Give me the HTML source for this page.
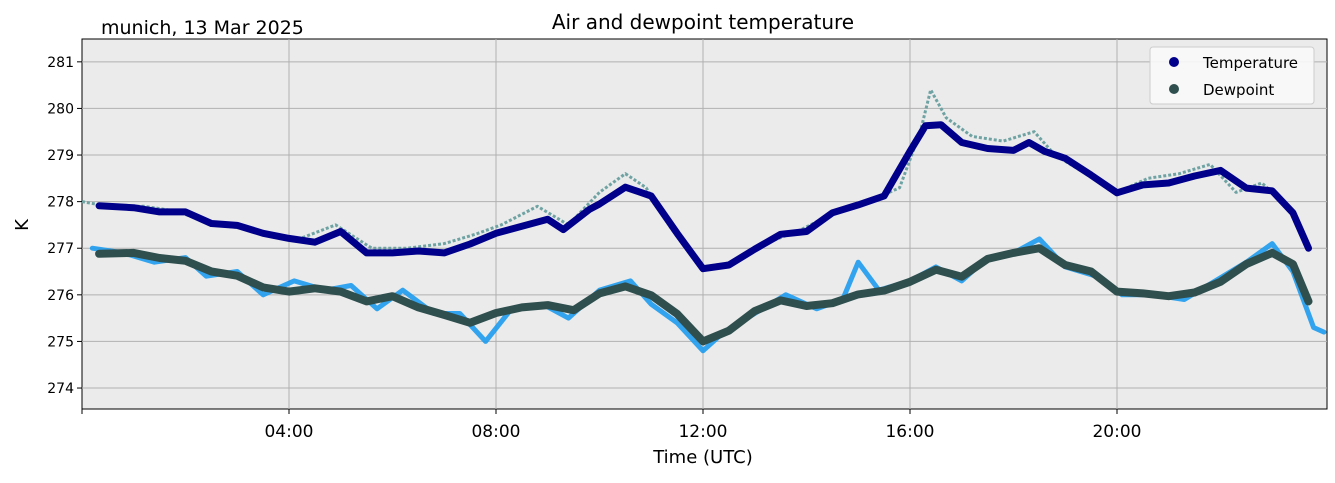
<!DOCTYPE html>
<html><head><meta charset="utf-8"><style>
body{margin:0;background:#fff;}
svg text{font-family:"DejaVu Sans","Liberation Sans",sans-serif;}
</style></head><body>
<svg id="chart" width="1335" height="478" xmlns="http://www.w3.org/2000/svg">
<text x="101" y="34" font-size="19">munich, 13 Mar 2025</text>
<text x="703" y="29" font-size="20" text-anchor="middle">Air and dewpoint temperature</text>
<rect x="82" y="39" width="1245" height="370" fill="#ebebeb" stroke="#000" stroke-width="1"/>
<g id="grid"></g>
<g id="series"></g>
<g id="axes"></g>
<text transform="translate(28,225) rotate(-90)" font-size="18" text-anchor="middle">K</text>
<text x="703" y="463" font-size="18" text-anchor="middle">Time (UTC)</text>
<g>
<rect x="1150" y="47" width="164" height="57" rx="3" fill="#fafafa" fill-opacity="0.9" stroke="#ccc"/>
<circle cx="1174" cy="62" r="5" fill="#00008b"/>
<text x="1203" y="68" font-size="15">Temperature</text>
<circle cx="1174" cy="89" r="5" fill="#2f4f4f"/>
<text x="1203" y="95" font-size="15">Dewpoint</text>
</g>
</svg>
<script>
const hours=[0.33,1,1.5,2,2.5,3,3.5,4,4.5,5,5.5,6,6.5,7,7.5,8,8.5,9,9.3,9.8,10,10.5,11,11.5,12,12.5,13,13.5,14,14.5,15,15.5,16,16.3,16.6,17,17.5,18,18.3,18.6,19,19.5,20,20.5,21,21.5,22,22.5,23,23.4,23.7];
const tempSmooth=[277.91,277.87,277.78,277.78,277.53,277.49,277.32,277.21,277.13,277.36,276.9,276.9,276.94,276.9,277.09,277.32,277.47,277.62,277.4,277.83,277.95,278.31,278.12,277.32,276.56,276.64,276.98,277.3,277.36,277.76,277.93,278.12,279.08,279.63,279.65,279.27,279.14,279.1,279.27,279.08,278.93,278.57,278.19,278.36,278.4,278.55,278.67,278.29,278.23,277.76,277.0];
const dewHours=[0.33,1,1.5,2,2.5,3,3.5,4,4.5,5,5.5,6,6.5,7,7.5,8,8.5,9,9.5,10,10.5,11,11.5,12,12.5,13,13.5,14,14.5,15,15.5,16,16.5,17,17.5,18,18.5,19,19.5,20,20.5,21,21.5,22,22.5,23,23.4,23.7];
const dewSmooth=[276.88,276.9,276.79,276.73,276.5,276.41,276.16,276.07,276.14,276.07,275.86,275.97,275.73,275.57,275.4,275.61,275.73,275.78,275.67,276.03,276.18,275.99,275.59,275.0,275.23,275.65,275.88,275.76,275.82,276.01,276.09,276.28,276.54,276.39,276.77,276.9,277.0,276.64,276.5,276.07,276.03,275.97,276.05,276.28,276.66,276.9,276.66,275.86];
const rawTempHours=[0,0.5,1.2,1.8,2.6,3.3,4.2,4.9,5.6,6.3,7.0,7.6,8.1,8.8,9.4,10.0,10.5,10.9,11.4,12.0,12.6,13.2,13.9,14.6,15.2,15.8,16.2,16.4,16.7,17.2,17.8,18.4,18.8,19.4,20.0,20.6,21.2,21.8,22.3,22.8,23.3,23.7];
const rawTemp=[278.0,277.9,277.9,277.8,277.5,277.4,277.2,277.5,277.0,277.0,277.1,277.3,277.5,277.9,277.5,278.2,278.6,278.3,277.4,276.6,276.7,277.1,277.4,277.8,278.0,278.3,279.5,280.4,279.8,279.4,279.3,279.5,279.0,278.6,278.2,278.5,278.6,278.8,278.2,278.4,277.9,277.1];
const rawDewHours=[0.2,0.8,1.4,2.0,2.4,3.0,3.5,4.1,4.7,5.2,5.7,6.2,6.8,7.3,7.8,8.3,8.9,9.4,10.0,10.6,11.0,11.5,12.0,12.4,13.0,13.6,14.2,14.7,15.0,15.4,16.0,16.5,17.0,17.5,18.0,18.5,19.0,19.6,20.1,20.7,21.3,21.9,22.5,23.0,23.4,23.8,24.0];
const rawDew=[277.0,276.9,276.7,276.8,276.4,276.5,276.0,276.3,276.1,276.2,275.7,276.1,275.6,275.6,275.0,275.7,275.8,275.5,276.1,276.3,275.8,275.4,274.8,275.2,275.6,276.0,275.7,275.9,276.7,276.1,276.3,276.6,276.3,276.8,276.9,277.2,276.6,276.4,276.0,276.0,275.9,276.3,276.7,277.1,276.5,275.3,275.2];
const yTicks=[274,275,276,277,278,279,280,281];
const xTicks=[4,8,12,16,20];
const xTickLabels=["04:00","08:00","12:00","16:00","20:00"];

const NS="http://www.w3.org/2000/svg";
const X0=82,X1=1327,Y0=39,Y1=409;
const xMin=0,xMax=24.058,yMin=273.55,yMax=281.49;
function xs(h){return X0+(h-xMin)/(xMax-xMin)*(X1-X0);}
function ys(v){return Y1-(v-yMin)/(yMax-yMin)*(Y1-Y0);}
function mk(tag,attrs,parent){const e=document.createElementNS(NS,tag);for(const k in attrs)e.setAttribute(k,attrs[k]);parent.appendChild(e);return e;}
const grid=document.getElementById('grid'),axes=document.getElementById('axes'),ser=document.getElementById('series');
yTicks.forEach(v=>{
  const g=mk('line',{x1:X0,x2:X1,y1:ys(v),y2:ys(v),stroke:'#b0b0b0','stroke-width':1},grid);
  
  mk('line',{x1:X0-5,x2:X0,y1:ys(v),y2:ys(v),stroke:'#000'},axes);
  const t=mk('text',{x:X0-8,y:ys(v)+5,'font-size':14,'text-anchor':'end'},axes);t.textContent=v;
  
});
xTicks.forEach((h,i)=>{
  const g=mk('line',{x1:xs(h),x2:xs(h),y1:Y0,y2:Y1,stroke:'#b0b0b0','stroke-width':1},grid);
  
  mk('line',{x1:xs(h),x2:xs(h),y1:Y1,y2:Y1+5,stroke:'#000'},axes);
  const t=mk('text',{x:xs(h),y:Y1+28,'font-size':17,'text-anchor':'middle'},axes);t.textContent=xTickLabels[i];
  
});
[0].forEach(h=>mk('line',{x1:xs(h),x2:xs(h),y1:Y1,y2:Y1+5,stroke:'#000'},axes));
function path(hs,vs,attrs,name){
  const d=hs.map((h,i)=>(i?'L':'M')+xs(h).toFixed(1)+','+ys(vs[i]).toFixed(1)).join('');
  const p=mk('path',Object.assign({d:d,fill:'none','stroke-linejoin':'round','stroke-linecap':'round'},attrs),ser);
  
}
path(rawTempHours,rawTemp,{stroke:'#6fa3a3','stroke-width':3,'stroke-dasharray':'3 2','stroke-linecap':'butt'},'raw-temperature-line');
path(rawDewHours,rawDew,{stroke:'#1e9cf0','stroke-width':5,'stroke-opacity':0.9},'raw-dewpoint-line');
path(hours,tempSmooth,{stroke:'#00008b','stroke-width':7},'temperature-line');
path(dewHours,dewSmooth,{stroke:'#2f4f4f','stroke-width':8},'dewpoint-line');
</script>
</body></html>
